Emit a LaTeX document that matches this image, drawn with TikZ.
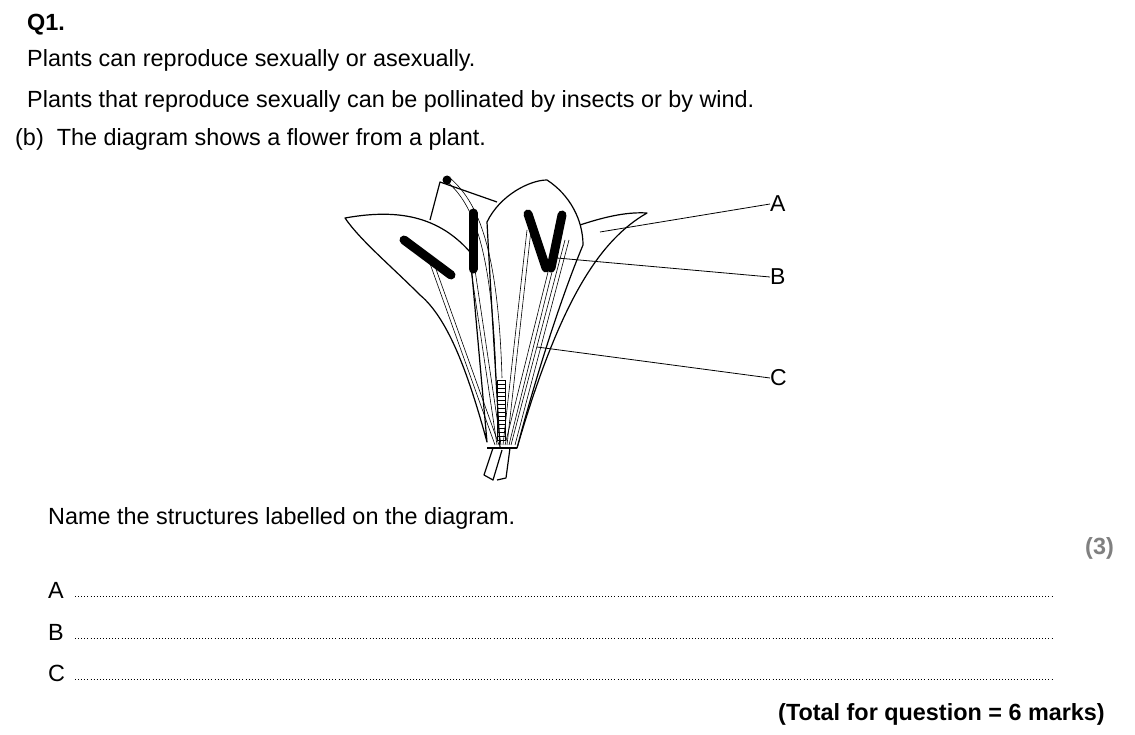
\documentclass[tikz,border=0pt]{standalone}
\usepackage{fontspec}
\setmainfont{Liberation Sans}
\usetikzlibrary{calc}
\begin{document}
\begin{tikzpicture}[x=1pt,y=-1pt,
  txt/.style={anchor=west,inner sep=0pt,font=\fontsize{23.4}{28}\selectfont},
  lbl/.style={anchor=west,inner sep=0pt,font=\fontsize{23}{28}\selectfont},
  ol/.style={line width=1.2pt,line join=round},
  fil/.style={line width=0.6pt},
  anther/.style={line width=9pt,line cap=round},
  dots/.style={line width=0.9pt,dash pattern=on 0.9pt off 2.2pt}]
\useasboundingbox (0,0) rectangle (1135,735);
% texts
\node[txt,font=\bfseries\fontsize{23.4}{28}\selectfont] (q) at (27,25) {Q1.};
\node[txt] (t1) at (27,60) {Plants can reproduce sexually or asexually.};
\node[txt] (t2) at (27,101) {Plants that reproduce sexually can be pollinated by insects or by wind.};
\node[txt] (t3) at (15,139) {(b)\ \ The diagram shows a flower from a plant.};
\node[txt] (t4) at (48,518) {Name the structures labelled on the diagram.};
\node[txt,anchor=east,text=gray,font=\bfseries\fontsize{23.4}{28}\selectfont] (m) at (1114,548) {(3)};
\node[txt] (la) at (48,590) {A};
\node[txt] (lb) at (48,632) {B};
\node[txt] (lc) at (48,673) {C};
\coordinate (ea) at (1052,596);\coordinate (eb) at (1052,638);\coordinate (ec) at (1052,679);
\draw[dots] (75,596) -- (ea); \draw[dots] (75,638) -- (eb); \draw[dots] (75,679) -- (ec);
\node[txt,anchor=east,font=\bfseries\fontsize{23.4}{28}\selectfont] (tot) at (1105,714) {(Total for question = 6 marks)};
% flower
% back petal
\draw[ol] (430,220) -- (440,182) -- (497,202);
% left petal
\draw[ol,fill=white] (345,218) .. controls (390,210) and (435,212) .. (470,252)
  -- (487,442) .. controls (470,380) and (450,320) .. (420,295)
  .. controls (390,265) and (360,240) .. cycle;
% right outer petal
\draw[ol] (580,225) .. controls (610,215) and (630,212) .. (647,213)
  .. controls (600,240) and (560,300) .. (517,448);
% right middle petal
\draw[ol,fill=white] (487,222) .. controls (500,195) and (530,180) .. (547,180)
  .. controls (570,195) and (583,220) .. (583,245)
  .. controls (560,300) and (535,380) .. (517,448)
  -- (500,448) .. controls (495,360) and (490,280) .. cycle;
\draw[ol] (487,448) -- (517,448);
% stalk
\draw[ol] (493,448) -- (484,475) -- (493,480) -- (502,450);
\draw[ol] (510,448) -- (506,478) -- (497,480);
% style
\draw[fil] (445,180) .. controls (470,200) and (492,240) .. (496,378);
\draw[fil] (450,178) .. controls (475,200) and (498,240) .. (502,378);
\draw[fil] (497,380) rectangle (505,440);
\foreach \yy in {384,388,...,438} \draw[line width=0.4pt] (497,\yy) -- (505,\yy);
\fill (447,180) circle (4.5);
% filaments
\foreach \a/\b in {{428,258}/{495,445},{432,258}/{499,445},{471,270}/{497,445},{475,270}/{501,445},
  {548,272}/{505,445},{552,272}/{509,445},{527,230}/{503,445},{531,230}/{507,445},{565,240}/{511,445},{569,240}/{515,445}}
  \draw[fil] (\a) .. controls ($(\a)!0.6!(\b)$) .. (\b);
% anthers
\draw[anther] (404,240) -- (451,275);
\draw[anther] (473,213) -- (473,269);
\draw[anther] (528,214) -- (546,268);
\draw[anther] (562,215) -- (551,268);
% labels
\node[lbl] (A) at (770,204) {A};
\node[lbl] (B) at (770,277) {B};
\node[lbl] (C) at (770,378) {C};
\coordinate (pa) at (600,232);\coordinate (pb) at (557,258);\coordinate (pc) at (537,347);
\draw[line width=0.8pt] (pa) -- (A.west);
\draw[line width=0.8pt] (pb) -- (B.west);
\draw[line width=0.8pt] (pc) -- (C.west);
\end{tikzpicture}
\end{document}
